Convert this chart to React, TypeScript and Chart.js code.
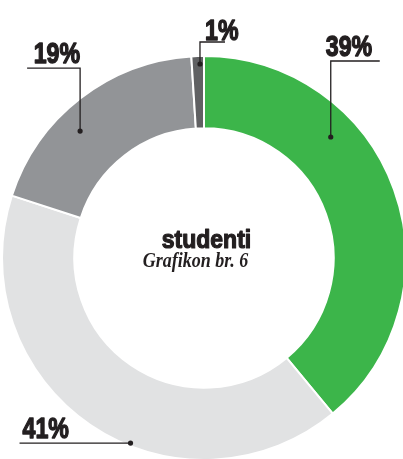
import React, { useEffect, useRef } from "react";
import { Chart, registerables } from "chart.js";

Chart.register(...registerables);

const categories = ["A", "B", "C", "D"];
const values = [39, 41, 19, 1];
const valueLabels = ["39%", "41%", "19%", "1%"];
const sliceColors = ["#3cb54a", "#e1e2e3", "#929497", "#606163"];
const centerTitle = "studenti";
const centerSubtitle = "Grafikon br. 6";

// leader placement (layout only): t = fraction along slice angle, r = fraction across ring
const leaderLayout = [
  { t: 0.33, r: 0.63, lift: 76, len: 49, dir: 1, tx: -5, align: "left", gap: 5 },
  { t: 0.415, r: 0.96, lift: 0, len: 111, dir: -1, tx: -108, align: "left", gap: 5 },
  { t: 0.405, r: 0.66, lift: 63, len: 53, dir: -1, tx: 0, align: "right", gap: 5 },
  { t: 0.67, r: 0.89, lift: 22, len: 25, dir: 1, tx: 5, align: "left", gap: 2 },
];

const INK = "#231f20";
const PCT_FONT = "bold 29px 'Liberation Sans', Arial, sans-serif";
const PCT_SCALE = 0.8;
const TITLE_FONT = "bold 25px 'Liberation Sans', Arial, sans-serif";
const TITLE_SCALE = 0.92;
const SUB_FONT = "italic bold 20px 'Liberation Serif', 'DejaVu Serif', serif";
const SUB_SCALE = 0.9;

function scaledText(ctx: any, text: string, x: number, y: number, sx: number, align: string, weight: number) {
  ctx.save();
  ctx.translate(x, y);
  ctx.scale(sx, 1);
  ctx.textAlign = align;
  ctx.textBaseline = "alphabetic";
  ctx.fillText(text, 0, 0);
  if (weight > 0) {
    ctx.lineWidth = weight;
    ctx.lineJoin = "round";
    ctx.strokeStyle = ctx.fillStyle;
    ctx.strokeText(text, 0, 0);
  }
  ctx.restore();
}

const labelPlugin = {
  id: "leaderLabels",
  afterDatasetsDraw(chart: any) {
    const ctx = chart.ctx;
    const meta = chart.getDatasetMeta(0);
    ctx.save();
    meta.data.forEach((arc: any, i: number) => {
      const p = arc.getProps(["x", "y", "startAngle", "endAngle", "innerRadius", "outerRadius"], true);
      const L = leaderLayout[i];
      const ang = p.startAngle + L.t * (p.endAngle - p.startAngle);
      const rad = p.innerRadius + L.r * (p.outerRadius - p.innerRadius);
      const dx = p.x + Math.cos(ang) * rad;
      const dy = p.y + Math.sin(ang) * rad;
      const ly = dy - L.lift;
      ctx.strokeStyle = INK;
      ctx.lineWidth = 1.3;
      ctx.beginPath();
      ctx.moveTo(dx, dy);
      ctx.lineTo(dx, ly);
      ctx.lineTo(dx + L.dir * L.len, ly);
      ctx.stroke();
      ctx.fillStyle = INK;
      ctx.beginPath();
      ctx.arc(dx, dy, 2.6, 0, Math.PI * 2);
      ctx.fill();
      ctx.font = PCT_FONT;
      scaledText(ctx, valueLabels[i], dx + L.tx, ly - L.gap, PCT_SCALE, L.align, 1.4);
    });
    const c = meta.data[0];
    if (c) {
      ctx.fillStyle = INK;
      ctx.font = TITLE_FONT;
      scaledText(ctx, centerTitle, c.x + 2.5, c.y - 10, TITLE_SCALE, "center", 1.2);
      ctx.font = SUB_FONT;
      scaledText(ctx, centerSubtitle, c.x - 8.5, c.y + 9, SUB_SCALE, "center", 0);
    }
    ctx.restore();
  },
};

export default function App() {
  const ref = useRef<HTMLCanvasElement>(null);
  useEffect(() => {
    if (!ref.current) return;
    const chart = new Chart(ref.current, {
      type: "doughnut",
      data: {
        labels: categories,
        datasets: [
          {
            data: values,
            backgroundColor: sliceColors,
            borderColor: "#ffffff",
            borderWidth: 2,
            hoverOffset: 0,
          },
        ],
      },
      options: {
        responsive: false,
        animation: false,
        radius: 202,
        cutout: 129,
        rotation: 0,
        layout: { padding: { left: 2, right: 6, top: 56, bottom: 12 } },
        plugins: {
          legend: { display: false },
          tooltip: { enabled: false },
          title: { display: false },
        },
        events: [],
      },
      plugins: [labelPlugin],
    });
    return () => chart.destroy();
  }, []);
  return (
    <div
      style={{
        position: "fixed",
        left: 0,
        top: 0,
        width: 403,
        height: 459,
        overflow: "hidden",
        background: "#ffffff",
      }}
    >
      <canvas ref={ref} width={412} height={472} style={{ width: 412, height: 472, display: "block" }} />
    </div>
  );
}
